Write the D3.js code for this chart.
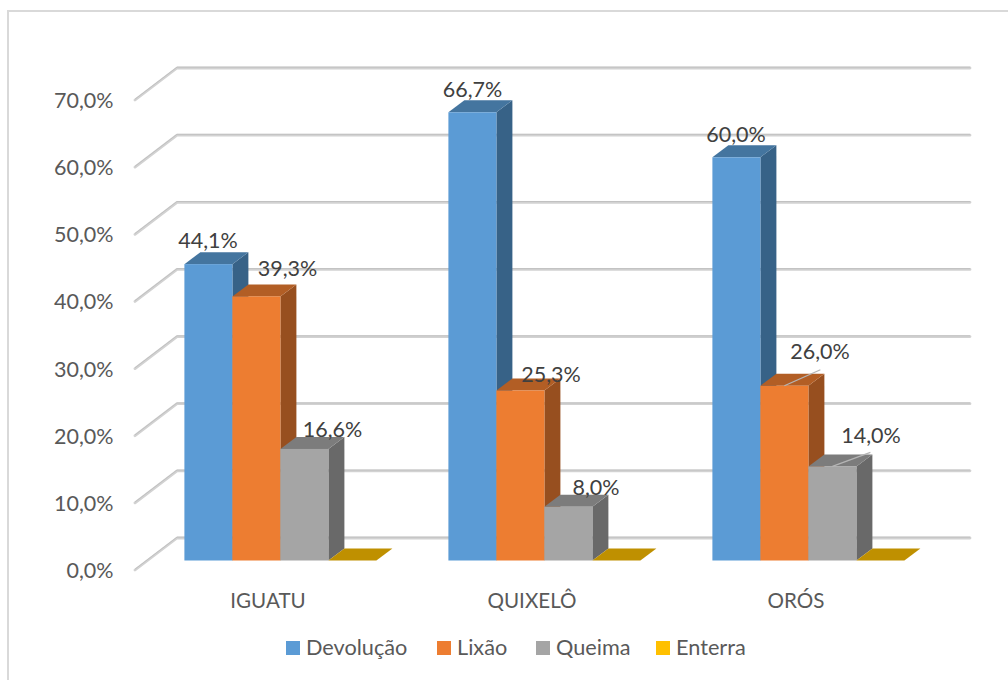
<!DOCTYPE html>
<html><head><meta charset="utf-8">
<script src="https://cdn.jsdelivr.net/npm/d3@7/dist/d3.min.js"></script>
<style>html,body{margin:0;background:#fff}svg{display:block}text{font-family:"Lato",sans-serif}</style>
</head><body><svg id="c" width="1008" height="680"></svg>
<script>
const categories=["IGUATU","QUIXELÔ","ORÓS"];
const seriesNames=["Devolução","Lixão","Queima","Enterra"];
const devolucao=[44.1,66.7,60.0];
const lixao=[39.3,25.3,26.0];
const queima=[16.6,8.0,14.0];
const enterra=[0,0,0];
const yTicks=[0,10,20,30,40,50,60,70];
const front=["#5b9bd5","#ed7d31","#a5a5a5","#ffc000"];
const topC=["#44759f","#b25e25","#7c7c7c","#bf9000"];
const side=["#376287","#974f1f","#696969","#a37b00"];
const values=[devolucao,lixao,queima,enterra];
const fmt=v=>v.toFixed(1).replace(".",",")+"%";
const svg=d3.select("#c");
const DX=16,DY=-12;
const y=d3.scaleLinear().domain([0,70]).range([560.5,90.1]);
const gy=d3.scaleLinear().domain([0,70]).range([570,100]);
const x0=d3.scaleBand().domain(categories).range([136.4,928.4]);
const xs=d3.scaleBand().domain(seriesNames).range([48,240]);
const W=xs.bandwidth();
svg.append("path").attr("d","M8,680V11H1008").attr("fill","#fff").attr("stroke","#d9d9d9").attr("stroke-width",2);
yTicks.forEach(t=>{
  const a=gy(t);
  svg.append("polyline").attr("points",`135,${a} 177,${a-32} 970,${a-32}`).attr("fill","none").attr("stroke","#d2d2d2").attr("stroke-width",2.8).attr("stroke-linejoin","round").attr("stroke-linecap","round");
  svg.append("polyline").attr("points",`135,${a-.8} 177,${a-32.8} 970,${a-32.8}`).attr("fill","none").attr("stroke","#bdbdbd").attr("stroke-width",.8);
  svg.append("text").attr("x",113.5).attr("y",a+8).attr("text-anchor","end").attr("font-size",21.5).attr("fill","#595959").text(fmt(t));
});
categories.forEach((c,ci)=>{
  const gx=x0(c);
  seriesNames.forEach((s,si)=>{
    const v=values[si][ci];
    const l=gx+xs(s),r=l+W,t=y(v),b=y(0);
    const g=svg.append("g");
    if(v>0){
      g.append("polygon").attr("points",`${r},${t} ${r+DX},${t+DY} ${r+DX},${b+DY} ${r},${b}`).attr("fill",side[si]);
      g.append("polygon").attr("points",`${l},${t} ${l+DX},${t+DY} ${r+DX},${t+DY} ${r},${t}`).attr("fill",topC[si]);
      g.append("rect").attr("x",l).attr("y",t).attr("width",W).attr("height",b-t).attr("fill",front[si]);
    } else {
      g.append("polygon").attr("points",`${l},${b} ${l+DX},${b+DY} ${r+DX},${b+DY} ${r},${b}`).attr("fill",topC[si]);
    }
  });
  svg.append("text").attr("x",gx+131.6).attr("y",608).attr("text-anchor","middle").attr("font-size",20.6).attr("fill","#595959").text(c);
});
const leader=(ci,si,x1,x2,dy)=>{
  const l=x0(categories[ci])+xs(seriesNames[si]);
  const t=y(values[si][ci]);
  svg.append("line").attr("x1",l+x1).attr("y1",t).attr("x2",l+x2).attr("y2",t+dy).attr("stroke","#b5b5b5").attr("stroke-width",1.3);
};
leader(2,1,24,60,-16);
leader(2,2,24,62,-14);
const labelPos=[[[208,248],[287.5,276],[332.5,437]],[[472.5,97],[551,382],[596,495]],[[736,142],[820,359],[871,443]]];
categories.forEach((c,ci)=>{
  [0,1,2].forEach(si=>{
    const p=labelPos[ci][si];
    svg.append("text").attr("x",p[0]).attr("y",p[1]).attr("text-anchor","middle").attr("font-size",21.5).attr("fill","#404040").text(fmt(values[si][ci]));
  });
});
const legX=[286,437,536,656];
seriesNames.forEach((s,i)=>{
  svg.append("rect").attr("x",legX[i]).attr("y",641).attr("width",14).attr("height",14).attr("fill",front[i]);
  svg.append("text").attr("x",legX[i]+20).attr("y",654.5).attr("font-size",21.7).attr("fill","#595959").text(s);
});
</script></body></html>
